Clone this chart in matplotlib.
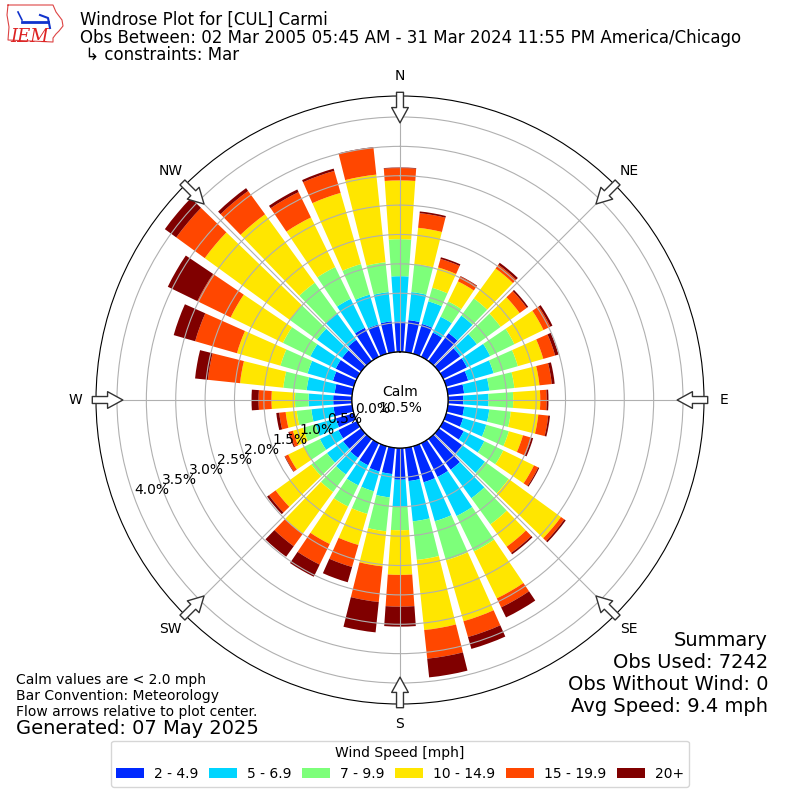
import numpy as np
import matplotlib.pyplot as plt

# direction bins, degrees (meteorological, wind from)
directions = np.arange(0, 360, 10)

speed_labels = ['2 - 4.9', '5 - 6.9', '7 - 9.9', '10 - 14.9', '15 - 19.9', '20+']

# percent of all obs falling in each direction bin, one list per speed bin
spd_2_5 = [0.52, 0.55, 0.53, 0.46, 0.59, 0.45, 0.45, 0.39, 0.28, 0.26, 0.28, 0.30,
           0.39, 0.49, 0.65, 0.64, 0.64, 0.57, 0.54, 0.45, 0.45, 0.42, 0.40, 0.38,
           0.35, 0.32, 0.32, 0.32, 0.30, 0.37, 0.40, 0.40, 0.45, 0.55, 0.52, 0.53]
spd_5_7 = [0.77, 0.48, 0.40, 0.30, 0.37, 0.35, 0.44, 0.45, 0.43, 0.43, 0.43, 0.41,
           0.39, 0.48, 0.60, 0.74, 0.69, 0.69, 0.46, 0.40, 0.35, 0.38, 0.35, 0.34,
           0.35, 0.36, 0.38, 0.42, 0.48, 0.45, 0.48, 0.53, 0.55, 0.55, 0.53, 0.50]
spd_7_10 = [0.63, 0.48, 0.24, 0.29, 0.36, 0.50, 0.46, 0.43, 0.43, 0.42, 0.37, 0.40,
            0.36, 0.50, 0.55, 0.67, 0.69, 0.66, 0.40, 0.58, 0.40, 0.40, 0.37, 0.33,
            0.30, 0.22, 0.25, 0.23, 0.40, 0.48, 0.52, 0.57, 0.65, 0.60, 0.54, 0.51]
spd_10_15 = [1.00, 0.62, 0.36, 0.38, 0.63, 0.40, 0.55, 0.45, 0.43, 0.46, 0.47, 0.25,
             0.58, 1.10, 0.47, 0.89, 1.08, 1.20, 0.76, 0.60, 0.55, 0.71, 0.88, 0.75,
             0.30, 0.18, 0.19, 0.40, 0.74, 0.77, 0.99, 1.79, 1.44, 0.94, 1.26, 1.50]
spd_15_20 = [0.21, 0.25, 0.15, 0.09, 0.08, 0.15, 0.13, 0.21, 0.21, 0.11, 0.17, 0.15,
             0.08, 0.07, 0.13, 0.17, 0.28, 0.49, 0.54, 0.61, 0.39, 0.39, 0.26, 0.14,
             0.06, 0.06, 0.11, 0.22, 0.55, 0.74, 0.63, 0.60, 0.49, 0.48, 0.39, 0.46]
spd_20up = [0.01, 0.03, 0.03, 0.01, 0.04, 0.03, 0.04, 0.06, 0.05, 0.03, 0.03, 0.03,
            0.02, 0.03, 0.03, 0.19, 0.21, 0.32, 0.34, 0.52, 0.27, 0.23, 0.22, 0.04,
            0.01, 0.02, 0.05, 0.12, 0.22, 0.38, 0.56, 0.24, 0.06, 0.05, 0.04, 0.01]

calm_pct = 10.5
obs_used = 7242
obs_nowind = 0
avg_speed = 9.4

rticks = [0.0, 0.5, 1.0, 1.5, 2.0, 2.5, 3.0, 3.5, 4.0]
compass = ['N', 'NE', 'E', 'SE', 'S', 'SW', 'W', 'NW']
compass_deg = [0, 45, 90, 135, 180, 225, 270, 315]

fig = plt.figure(figsize=(8, 8), dpi=100)
ax = fig.add_axes([0.12, 0.12, 0.76, 0.76], projection='polar')
ax.set_theta_zero_location('N')
ax.set_theta_direction(-1)

colors = plt.cm.jet(np.linspace(0, 1, 7)[1:])
theta = np.deg2rad(directions)
bottom = np.zeros(len(directions))
series = [spd_2_5, spd_5_7, spd_7_10, spd_10_15, spd_15_20, spd_20up]
for vals, lab, col in zip(series, speed_labels, colors):
    ax.bar(theta, vals, width=np.deg2rad(10) * 0.8, bottom=bottom,
           color=col, label=lab, linewidth=0)
    bottom = bottom + np.array(vals)

rmax = 4.357
ax.set_ylim(0, rmax)
ax.set_rorigin(-0.817)
ax.set_yticks(rticks)
ax.set_yticklabels([f'{t:.1f}%' for t in rticks], fontsize=10)
ax.set_rlabel_position(250)
ax.set_xticks(np.deg2rad(compass_deg))
ax.set_xticklabels(compass, fontsize=10)
ax.tick_params(axis='x', pad=4)
ax.grid(True, color='#b0b0b0', lw=0.8)

# calm circle in the middle
circ = np.linspace(0, 2 * np.pi, 300)
ax.plot(circ, np.zeros_like(circ), color='k', lw=1, zorder=5)
ax.text(0.5, 0.5, f'Calm\n{calm_pct}%', transform=ax.transAxes,
        ha='center', va='center', fontsize=10)

# hollow flow arrows at the edge
for d in compass_deg:
    ax.annotate('', xy=(np.deg2rad(d), 3.90), xytext=(np.deg2rad(d), 4.42),
                arrowprops=dict(arrowstyle='simple,head_length=1.1,head_width=1.2,tail_width=0.5',
                                fc='white', ec='#333333', lw=1, shrinkA=0, shrinkB=0),
                annotation_clip=False, zorder=6)

# header
fig.text(80 / 800, 1 - 20 / 800, 'Windrose Plot for [CUL] Carmi', fontsize=12, va='center')
fig.text(80 / 800, 1 - 38 / 800,
         'Obs Between: 02 Mar 2005 05:45 AM - 31 Mar 2024 11:55 PM America/Chicago',
         fontsize=12, va='center')
fig.text(80 / 800, 1 - 55 / 800, ' \u21b3 constraints: Mar', fontsize=12, va='center')

# rough IEM logo
lax = fig.add_axes([0, 1 - 55 / 800, 70 / 800, 55 / 800])
lax.set_xlim(0, 70)
lax.set_ylim(55, 0)
lax.axis('off')
lax.plot([8, 53, 56, 62, 63, 59, 56, 53, 53, 8, 9, 7, 8],
         [5, 5, 12, 20, 26, 31, 34, 38, 42, 40, 27, 15, 5], color='#d44', lw=0.8)
lax.plot([22, 48], [22, 22], color='#1133cc', lw=2)
lax.plot([18, 22], [12, 20], color='#1133cc', lw=1.2)
lax.plot([40, 48, 50], [15, 18, 28], color='#1133cc', lw=1.5)
lax.text(30, 37, 'IEM', fontsize=13, color='#d22', style='italic',
         family='serif', ha='center', va='center')

# notes
fig.text(16 / 800, 1 - 680 / 800, 'Calm values are < 2.0 mph', fontsize=10, va='center')
fig.text(16 / 800, 1 - 696 / 800, 'Bar Convention: Meteorology', fontsize=10, va='center')
fig.text(16 / 800, 1 - 712 / 800, 'Flow arrows relative to plot center.', fontsize=10, va='center')
fig.text(16 / 800, 1 - 729 / 800, 'Generated: 07 May 2025', fontsize=14, va='center')

fig.text(768 / 800, 1 - 640 / 800, 'Summary', fontsize=14, ha='right', va='center')
fig.text(768 / 800, 1 - 662 / 800, f'Obs Used: {obs_used}', fontsize=14, ha='right', va='center')
fig.text(768 / 800, 1 - 684 / 800, f'Obs Without Wind: {obs_nowind}', fontsize=14, ha='right', va='center')
fig.text(768 / 800, 1 - 706 / 800, f'Avg Speed: {avg_speed} mph', fontsize=14, ha='right', va='center')

h, l = ax.get_legend_handles_labels()
fig.legend(h, l, loc='lower center', bbox_to_anchor=(0.5, 0.008), ncol=6,
           title='Wind Speed [mph]', fontsize=10, title_fontsize=10,
           columnspacing=0.8, handletextpad=0.7)

fig.savefig('out.png', dpi=100)
